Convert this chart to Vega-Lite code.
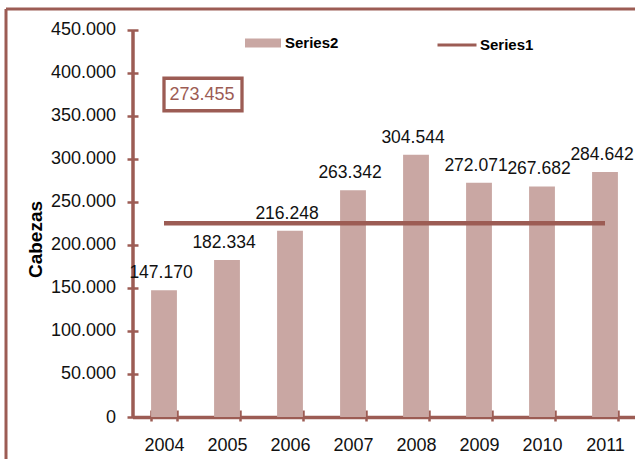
{
  "$schema": "https://vega.github.io/schema/vega-lite/v6.json",
  "width": 629,
  "height": 450,
  "autosize": "none",
  "padding": {"left": 6, "top": 9, "right": 0, "bottom": 0},
  "background": "white",
  "config": {
    "view": {"stroke": "#9c5c54", "strokeWidth": 3, "strokeDash": [629, 1079, 450, 0]},
    "locale": {"number": {"decimal": ",", "thousands": ".", "grouping": [3], "currency": ["", " €"]}},
    "font": "Liberation Sans",
    "text": {"font": "Liberation Sans"}
  },
  "datasets": {
    "bars": [
      {"year": "2004", "value": 147170, "series": "Series2"},
      {"year": "2005", "value": 182334, "series": "Series2"},
      {"year": "2006", "value": 216248, "series": "Series2"},
      {"year": "2007", "value": 263342, "series": "Series2"},
      {"year": "2008", "value": 304544, "series": "Series2"},
      {"year": "2009", "value": 272071, "series": "Series2"},
      {"year": "2010", "value": 267682, "series": "Series2"},
      {"year": "2011", "value": 284642, "series": "Series2"}
    ],
    "line": [
      {"year": "2004", "value": 225000, "series": "Series1"},
      {"year": "2005", "value": 225000, "series": "Series1"},
      {"year": "2006", "value": 225000, "series": "Series1"},
      {"year": "2007", "value": 225000, "series": "Series1"},
      {"year": "2008", "value": 225000, "series": "Series1"},
      {"year": "2009", "value": 225000, "series": "Series1"},
      {"year": "2010", "value": 225000, "series": "Series1"},
      {"year": "2011", "value": 225000, "series": "Series1"}
    ],
    "note": [
      {"year": "2004", "value": 374500, "label": "273.455"}
    ]
  },
  "resolve": {"axis": {"x": "independent", "y": "independent"}},
  "layer": [
    {
      "encoding": {
        "x": {
          "field": "year", "type": "nominal",
          "scale": {"range": [126.5, 630.5], "paddingInner": 0.59, "paddingOuter": 0.295},
          "axis": {
            "orient": "bottom", "offset": -42, "tickBand": "extent", "labelAngle": 0, "title": null,
            "labelFont": "Liberation Sans", "labelFontSize": 18, "labelColor": "#111", "labelPadding": 15,
            "tickSize": 4, "tickWidth": 2.5, "tickColor": "#9c5c54",
            "domainColor": "#9c5c54", "domainWidth": 3.5, "grid": false
          }
        },
        "y": {
          "field": "value", "type": "quantitative",
          "scale": {"domain": [0, 450000], "range": [408, 20.5], "nice": false},
          "axis": {
            "orient": "left", "offset": -126.5,
            "values": [0, 50000, 100000, 150000, 200000, 250000, 300000, 350000, 400000, 450000],
            "format": ",d", "title": "Cabezas",
            "titleX": -91, "titleY": 230, "titleAngle": -90, "titleAlign": "center", "titleBaseline": "alphabetic",
            "titleFont": "Liberation Sans", "titleFontSize": 19, "titleFontWeight": "bold", "titleColor": "#000",
            "labelFont": "Liberation Sans", "labelFontSize": 18, "labelColor": "#111", "labelPadding": 11.5,
            "tickSize": 5.5, "tickWidth": 2.5, "tickColor": "#9c5c54",
            "domainColor": "#9c5c54", "domainWidth": 3.5, "grid": false
          }
        }
      },
      "layer": [
        {
          "data": {"name": "bars"},
          "mark": {"type": "bar"},
          "encoding": {
            "fill": {
              "field": "series", "type": "nominal",
              "scale": {"range": ["#c9a7a3"]},
              "legend": {
                "orient": "none", "legendX": 239, "legendY": 16, "title": null,
                "symbolType": "M-1,-0.25L1,-0.25L1,0.25L-1,0.25Z", "symbolSize": 1296,
                "symbolStrokeWidth": 0, "symbolOpacity": 1,
                "labelFont": "Liberation Sans", "labelFontSize": 15, "labelFontWeight": "bold", "labelColor": "#000", "labelOffset": 4
              }
            }
          }
        },
        {
          "data": {"name": "bars"},
          "mark": {"type": "text", "baseline": "alphabetic", "dy": -12, "dx": -3, "fontSize": 17.5, "color": "#111"},
          "encoding": {
            "text": {"field": "value", "type": "quantitative", "format": ",d"}
          }
        },
        {
          "data": {"name": "line"},
          "mark": {"type": "line", "strokeWidth": 4.5},
          "encoding": {
            "stroke": {
              "field": "series", "type": "nominal",
              "scale": {"range": ["#9c5c54"]},
              "legend": {
                "orient": "none", "legendX": 430, "legendY": 15, "title": null,
                "symbolType": "stroke", "symbolSize": 1521, "symbolStrokeWidth": 3,
                "labelFont": "Liberation Sans", "labelFontSize": 15, "labelFontWeight": "bold", "labelColor": "#000", "labelOffset": 2
              }
            }
          }
        },
        {
          "data": {"name": "note"},
          "mark": {
            "type": "point", "shape": "M0,-0.5L2.4,-0.5L2.4,0.5L0,0.5Z", "size": 4225,
            "filled": false, "color": "#9c5c54", "stroke": "#9c5c54", "strokeWidth": 3.3, "opacity": 1
          },
          "encoding": {}
        },
        {
          "data": {"name": "note"},
          "mark": {"type": "text", "align": "center", "baseline": "middle", "dx": 38, "fontSize": 18, "color": "#9c5c54"},
          "encoding": {
            "text": {"field": "label", "type": "nominal"}
          }
        }
      ]
    },
    {
      "data": {"name": "bars"},
      "mark": {"type": "bar", "opacity": 0},
      "encoding": {
        "x": {
          "field": "year", "type": "nominal",
          "scale": {"range": [126.5, 630.5], "paddingInner": 0.59, "paddingOuter": 0.295},
          "axis": {
            "orient": "bottom", "offset": -49, "tickBand": "extent", "title": null,
            "labels": false, "domain": false, "grid": false,
            "tickSize": 7, "tickWidth": 2.5, "tickColor": "#9c5c54"
          }
        },
        "y": {
          "field": "value", "type": "quantitative",
          "scale": {"domain": [0, 450000], "range": [408, 20.5], "nice": false},
          "axis": {
            "orient": "left", "offset": -132,
            "values": [0, 50000, 100000, 150000, 200000, 250000, 300000, 350000, 400000, 450000],
            "title": null, "labels": false, "domain": false, "grid": false,
            "tickSize": 5.5, "tickWidth": 2.5, "tickColor": "#9c5c54"
          }
        }
      }
    }
  ]
}
